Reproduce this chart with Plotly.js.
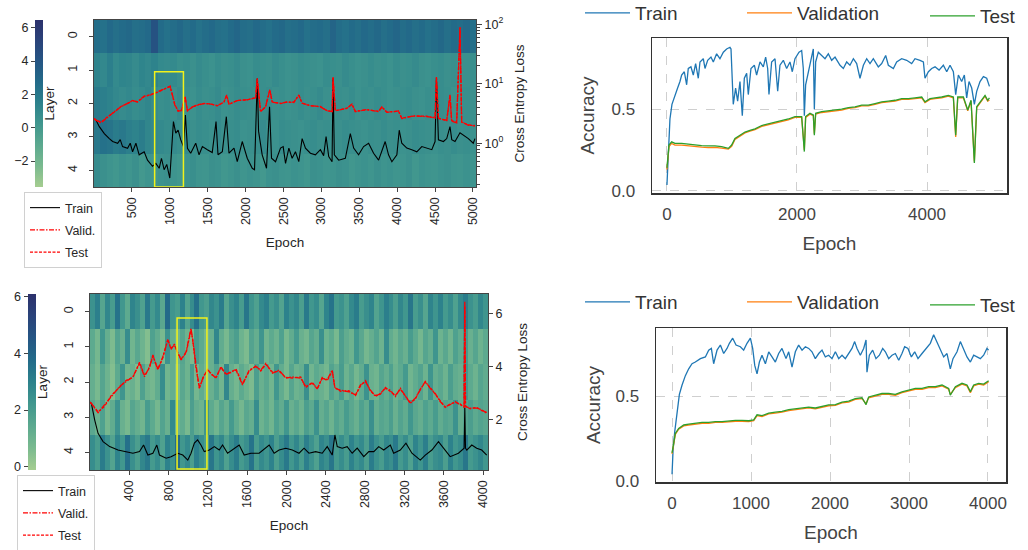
<!DOCTYPE html>
<html><head><meta charset="utf-8">
<script src="https://cdn.plot.ly/plotly-3.0.1.min.js"></script>
<style>html,body{margin:0;padding:0;background:#fff}#chart{width:1028px;height:550px}</style>
</head><body><div id="chart"></div>
<script>
// ---------- DATA ----------
const layerIdx = [0, 1, 2, 3, 4];
const layerLabels = ['0', '1', '2', '3', '4'];

// top-left heatmap rows (layer 0..4), 60 epoch bins over 0..5040
const tlHeat0 = [2.6,2.4,2.8,2.5,2.7,2.9,2.5,2.6,2.8,4.2,2.7,2.4,2.6,2.9,2.5,2.7,2.3,2.6,2.8,2.5,2.4,2.7,3.0,2.6,2.5,2.8,2.6,2.4,2.7,2.9,2.5,2.6,2.8,2.4,2.6,2.7,2.5,3.1,2.6,2.4,2.7,2.5,2.8,2.6,2.9,2.5,2.7,3.0,2.6,2.8,2.5,2.7,2.4,2.6,2.9,2.5,2.7,2.6,2.8,2.5];
const tlHeat1 = [1.4,1.1,1.6,1.0,1.3,1.2,0.9,1.3,1.1,1.4,1.0,0.9,1.0,0.7,0.8,0.6,0.9,0.7,0.5,0.8,0.6,0.7,0.9,0.6,0.5,0.8,0.7,0.6,0.9,0.7,0.5,0.6,0.8,0.7,0.6,0.5,0.8,0.7,0.6,0.9,0.7,0.5,0.6,0.8,0.6,0.7,0.5,0.8,0.6,0.7,0.9,0.6,0.5,0.7,0.8,0.6,0.7,0.5,0.6,0.7];
const tlHeat2 = [1.9,1.6,1.4,1.1,0.9,1.1,0.8,1.0,1.2,0.9,0.7,0.8,0.6,0.9,0.7,0.5,0.8,0.6,0.7,0.9,0.5,0.6,0.8,0.7,0.6,0.5,0.7,0.8,0.6,0.7,0.5,0.6,0.8,0.6,0.7,0.9,0.6,0.5,0.7,0.6,0.8,0.5,0.7,0.6,0.8,0.7,0.5,0.6,0.7,0.8,0.6,0.5,0.7,0.6,0.8,0.7,0.5,0.6,0.7,0.6];
const tlHeat3 = [2.0,2.4,2.2,1.8,2.0,1.6,1.4,1.7,1.2,1.1,1.0,0.8,0.9,0.7,1.0,0.6,0.8,0.7,0.5,0.9,0.6,0.7,0.8,0.5,0.6,0.7,0.9,0.6,0.5,0.8,0.7,0.6,0.5,0.7,0.8,0.6,0.7,0.5,0.6,0.8,0.7,0.6,0.5,0.7,0.6,0.8,0.6,0.7,0.5,0.6,0.8,0.7,0.6,0.5,0.7,0.6,0.8,0.6,0.7,0.5];
const tlHeat4 = [0.9,0.6,0.4,0.2,0.5,0.3,0.6,0.1,0.4,0.3,0.5,0.6,0.4,0.2,0.5,0.7,0.4,0.3,0.6,0.5,0.2,0.4,0.6,0.3,0.5,0.4,0.1,0.5,0.6,0.4,0.3,0.5,0.4,0.2,0.6,0.5,0.3,0.4,0.6,0.5,0.2,0.4,0.5,0.3,0.6,0.4,0.5,0.3,0.4,0.6,0.2,0.5,0.4,0.3,0.5,0.6,0.4,0.3,0.5,0.4];

// bottom-left heatmap rows (layer 0..4), 80 epoch bins over 0..4050
const blHeat0 = [2.4,3.1,1.6,2.8,2.0,3.5,2.2,1.4,2.9,2.5,1.8,3.3,2.1,2.7,1.5,3.8,2.3,2.0,3.0,1.7,2.6,3.6,2.2,1.9,2.8,2.4,3.2,1.6,2.5,2.9,2.0,3.4,2.3,1.8,2.7,3.1,2.1,2.5,1.7,3.0,2.4,2.8,1.9,3.3,2.2,2.6,1.6,2.9,3.5,2.1,2.4,1.8,2.7,3.2,2.0,2.5,2.9,1.7,2.3,3.1,2.6,1.9,2.8,2.2,3.4,2.0,2.5,1.6,2.9,2.3,3.0,2.1,2.6,1.8,2.7,3.2,2.4,2.0,2.8,2.3];
const blHeat1 = [1.4,0.8,2.2,1.2,0.6,1.7,1.1,2.6,0.9,1.5,1.0,0.5,1.8,1.3,0.7,2.4,1.2,0.9,1.6,1.0,0.6,2.0,1.4,0.8,1.1,2.8,1.3,0.7,1.5,1.9,1.0,0.6,1.7,1.2,2.3,0.9,1.4,1.0,1.8,0.7,1.3,2.1,1.1,0.8,1.6,1.2,2.5,1.0,1.4,0.7,1.9,1.3,1.0,2.2,1.5,0.8,1.2,1.7,1.0,2.6,1.3,0.9,1.5,1.1,2.0,1.4,0.8,1.6,1.2,2.3,1.0,1.5,0.9,1.8,1.3,2.1,1.1,1.6,1.0,1.4];
const blHeat2 = [1.2,0.7,1.6,1.0,0.5,1.4,2.3,0.9,1.1,0.6,1.8,1.0,0.8,1.3,2.6,0.9,1.2,0.6,1.5,1.0,2.0,0.8,1.3,0.7,1.1,1.7,0.9,2.8,1.2,0.8,1.4,1.0,0.6,1.9,1.1,1.5,0.9,2.2,1.3,0.7,1.6,1.0,1.2,2.5,0.9,1.4,1.1,0.8,1.7,1.2,2.0,1.0,1.5,0.8,1.3,2.4,1.1,0.9,1.6,1.2,1.8,1.0,1.4,2.1,0.9,1.3,1.7,1.0,2.3,1.2,1.5,1.0,1.9,1.3,1.1,2.2,1.4,1.0,1.6,1.3];
const blHeat3 = [1.5,1.0,1.8,0.8,1.3,2.4,1.1,0.7,1.6,1.2,0.9,2.0,1.4,0.8,1.7,1.1,2.7,1.0,1.3,0.7,1.9,1.2,1.0,2.3,1.4,0.9,1.6,1.1,2.1,1.3,0.8,1.5,1.2,2.6,1.0,1.4,0.9,1.8,1.3,2.2,1.1,1.5,1.0,1.9,1.4,2.4,1.2,1.6,1.0,1.7,1.3,2.0,1.5,1.1,1.8,1.3,2.5,1.2,1.6,1.4,1.9,1.1,1.7,1.3,2.2,1.5,1.2,1.8,1.4,2.0,1.3,1.7,1.5,2.4,1.2,1.6,1.9,1.4,1.7,1.5];
const blHeat4 = [2.6,2.0,3.2,2.4,1.7,2.9,2.2,3.6,2.5,1.9,2.8,3.3,2.1,2.6,1.8,3.0,2.4,3.7,2.2,2.7,1.9,3.1,2.5,2.0,3.4,2.3,2.8,1.8,2.6,3.2,2.1,2.5,3.5,2.0,2.7,2.3,3.0,1.9,2.6,3.3,2.2,2.8,2.0,3.1,2.4,1.8,2.9,2.5,3.4,2.1,2.6,2.0,3.0,2.3,2.7,1.9,3.2,2.4,2.0,2.8,2.5,3.3,2.1,2.6,1.8,2.9,2.3,3.1,2.0,2.5,2.7,1.9,3.0,2.2,2.6,3.4,2.1,2.4,2.8,2.2];

// top-left losses (log scale)
const tlTrainEpoch = [0,26,70,136,202,246,312,346,377,443,478,509,553,596,662,706,772,816,860,890,925,960,1000,1020,1048,1079,1110,1145,1180,1206,1233,1276,1342,1386,1430,1496,1560,1610,1636,1693,1746,1781,1847,1890,1956,2022,2088,2118,2154,2171,2219,2276,2316,2342,2395,2461,2496,2527,2571,2614,2658,2702,2746,2790,2855,2921,2987,3030,3062,3097,3141,3154,3171,3228,3316,3382,3426,3491,3557,3623,3689,3755,3798,3842,3886,3930,3996,4027,4061,4127,4193,4259,4325,4391,4457,4500,4518,4544,4610,4654,4697,4720,4763,4829,4873,4939,5004,5026];
const tlTrain = [2.6,2.45,1.9,1.45,1.2,1.07,1.0,1.15,0.88,0.825,1.0,0.72,1.0,0.64,0.72,0.52,0.41,0.46,0.38,0.56,0.36,0.44,0.26,0.56,2.31,1.48,1.66,1.14,0.88,2.99,0.825,0.68,1.0,0.64,0.88,0.78,0.7,2.31,0.64,0.72,2.8,0.68,0.83,0.49,1.07,0.56,0.38,0.36,12.3,1.6,0.64,0.38,4.1,0.56,0.49,0.83,0.88,0.46,0.83,0.56,0.72,0.49,1.2,0.83,0.68,0.64,0.78,0.62,1.3,0.6,0.49,12.3,0.64,0.52,0.56,1.45,0.83,0.64,0.88,1.0,0.68,0.52,0.72,1.07,0.64,0.49,0.64,1.66,1.0,0.83,0.78,0.72,0.88,0.83,0.78,1.07,12.3,1.14,1.07,1.2,1.9,1.15,1.07,1.5,1.38,1.2,1.0,1.2];
const tlValidEpoch = [0,26,92,180,268,355,443,509,574,662,750,838,925,1004,1035,1066,1110,1154,1202,1233,1299,1364,1452,1540,1627,1715,1751,1781,1890,2022,2132,2154,2171,2197,2263,2320,2351,2461,2548,2636,2702,2746,2855,2987,3075,3141,3154,3184,3338,3404,3448,3601,3755,3798,3864,4017,4061,4215,4391,4500,4518,4544,4654,4697,4719,4785,4829,4851,4939,5026];
const tlValid = [2.6,2.45,2.2,2.75,3.4,4.1,4.7,5.2,5.0,6.2,6.5,7.3,8.0,9.1,6.5,4.4,3.5,3.55,6.1,3.5,4.1,4.4,4.7,4.55,4.3,4.9,6.5,4.55,5.2,5.4,5.8,12.3,7.4,3.4,4.1,8.0,4.9,4.7,4.9,4.9,6.5,4.7,4.3,4.1,3.55,3.4,13,3.55,3.85,4.55,3.4,3.7,3.4,4.1,3.3,3.5,2.6,2.9,2.8,2.7,13,2.6,2.45,6.5,2.35,2.2,91,2.3,2.0,2.0];
const tlTest = [2.6,2.45,2.25,2.8,3.35,4.15,4.65,5.25,4.95,6.1,6.6,7.2,8.1,9.0,6.4,4.5,3.45,3.6,6.0,3.55,4.05,4.45,4.65,4.6,4.25,4.95,6.4,4.5,5.25,5.35,5.85,12.0,7.3,3.45,4.05,7.8,4.95,4.65,4.95,4.85,6.4,4.75,4.25,4.15,3.5,3.45,12.5,3.5,3.9,4.5,3.45,3.65,3.45,4.05,3.35,3.45,2.65,2.85,2.85,2.65,12.6,2.65,2.4,6.3,2.4,2.25,88,2.25,2.05,1.95];

// bottom-left losses (linear)
const blTrainEpoch = [0,14,48,82,133,200,285,369,437,504,545,589,640,680,707,775,825,893,944,995,1028,1062,1095,1129,1163,1214,1265,1315,1349,1400,1451,1518,1569,1637,1721,1789,1823,1874,1924,1992,2059,2127,2178,2228,2296,2363,2414,2465,2492,2516,2566,2617,2668,2719,2786,2837,2888,2938,2989,3056,3090,3158,3215,3276,3361,3412,3479,3546,3597,3665,3749,3807,3814,3821,3834,3885,3935,3986,4037];
const blTrain = [2.65,2.6,1.97,1.47,1.16,0.97,0.84,0.78,0.72,0.78,1.03,0.65,0.72,1.03,0.65,0.53,0.59,0.72,0.65,0.46,0.72,1.1,1.22,1.03,0.78,0.84,0.97,0.84,1.03,0.72,0.84,1.03,0.65,0.72,0.72,0.91,1.03,0.72,0.84,0.91,0.84,0.72,0.91,0.72,0.78,0.72,0.97,0.65,1.41,0.97,0.91,0.97,0.72,0.91,0.59,0.78,0.78,0.97,0.84,1.03,0.72,0.84,1.1,0.72,0.46,0.65,0.84,1.16,0.91,0.59,0.72,0.91,2.45,0.91,0.84,1.03,0.91,0.84,0.65];
const blValidEpoch = [0,14,82,150,217,302,369,437,504,555,606,640,690,741,792,825,859,893,927,978,1028,1045,1078,1112,1153,1197,1231,1282,1332,1383,1434,1485,1552,1620,1688,1738,1789,1857,1924,1992,2059,2144,2195,2262,2313,2363,2414,2465,2492,2550,2634,2702,2752,2803,2854,2905,2955,3006,3056,3107,3158,3209,3259,3310,3361,3412,3462,3513,3563,3614,3665,3716,3766,3807,3814,3821,3868,3935,3986,4037];
const blValid = [2.65,2.6,2.25,2.55,2.86,3.24,3.43,3.61,4.11,3.61,3.99,4.43,3.86,4.36,4.99,4.68,4.8,4.55,4.24,4.55,5.43,4.99,3.99,3.17,3.61,3.86,3.74,3.55,3.99,3.68,3.8,3.86,3.3,3.86,3.99,3.86,4.11,3.74,3.86,3.55,3.6,3.55,3.24,3.36,3.17,3.55,3.5,3.86,3.17,3.1,3.04,2.92,3.3,3.43,3.1,2.86,2.98,3.17,3.1,2.86,3.17,2.86,2.6,2.8,3.1,3.43,3.17,2.98,2.67,2.48,2.55,2.67,2.55,2.48,6.44,2.48,2.42,2.42,2.36,2.23];
const blTest = [2.65,2.6,2.28,2.5,2.9,3.2,3.47,3.58,4.15,3.65,3.95,4.4,3.9,4.32,5.02,4.64,4.84,4.5,4.28,4.5,5.38,5.02,3.95,3.2,3.58,3.9,3.7,3.58,3.95,3.72,3.76,3.9,3.34,3.82,4.02,3.82,4.08,3.78,3.82,3.58,3.56,3.6,3.2,3.4,3.14,3.58,3.46,3.82,3.2,3.06,3.08,2.9,3.26,3.46,3.06,2.9,2.95,3.2,3.06,2.9,3.14,2.9,2.63,2.76,3.14,3.4,3.2,2.95,2.7,2.45,2.58,2.64,2.58,2.45,6.3,2.5,2.4,2.45,2.33,2.26];

// top-right accuracy
const trTrainEpoch = [0,15,31,46,77,123,164,200,226,267,303,328,369,405,441,482,508,559,585,626,677,713,764,815,867,918,969,985,1005,1020,1056,1087,1123,1159,1190,1226,1251,1292,1344,1379,1431,1482,1518,1549,1569,1610,1662,1703,1738,1790,1841,1892,1928,1969,2031,2072,2097,2113,2133,2164,2215,2251,2267,2287,2328,2379,2431,2482,2533,2585,2662,2713,2764,2815,2867,2918,2969,3021,3072,3123,3174,3251,3303,3364,3405,3482,3533,3610,3687,3764,3815,3892,3944,3969,4021,4072,4123,4185,4251,4303,4354,4405,4441,4482,4533,4574,4610,4646,4687,4728,4764,4815,4867,4918,4960];
const trTrain = [0.035,0.18,0.34,0.44,0.53,0.59,0.63,0.67,0.71,0.73,0.65,0.75,0.76,0.71,0.78,0.69,0.79,0.81,0.75,0.80,0.82,0.79,0.84,0.81,0.85,0.87,0.88,0.87,0.65,0.53,0.63,0.55,0.67,0.46,0.69,0.72,0.59,0.75,0.77,0.71,0.79,0.76,0.82,0.75,0.59,0.79,0.81,0.61,0.77,0.80,0.75,0.79,0.73,0.81,0.85,0.86,0.75,0.46,0.65,0.71,0.79,0.87,0.50,0.79,0.85,0.83,0.81,0.84,0.80,0.82,0.77,0.75,0.79,0.77,0.81,0.78,0.69,0.77,0.81,0.78,0.81,0.76,0.78,0.83,0.77,0.75,0.79,0.81,0.80,0.78,0.81,0.80,0.79,0.69,0.73,0.75,0.76,0.74,0.77,0.73,0.77,0.73,0.59,0.71,0.67,0.71,0.57,0.67,0.63,0.53,0.61,0.67,0.70,0.69,0.64];
const trEvalEpoch = [0,15,31,72,123,226,328,431,533,636,738,841,944,995,1046,1123,1200,1277,1354,1457,1559,1662,1764,1867,1969,2072,2113,2133,2200,2251,2267,2287,2379,2482,2585,2687,2790,2892,2995,3097,3200,3303,3405,3508,3610,3713,3815,3918,3969,4046,4123,4226,4328,4405,4441,4472,4559,4626,4677,4728,4764,4841,4892,4933,4960];
const trValid = [0.13,0.21,0.27,0.29,0.28,0.28,0.275,0.27,0.268,0.265,0.266,0.262,0.255,0.272,0.315,0.335,0.355,0.365,0.375,0.395,0.405,0.415,0.425,0.435,0.45,0.45,0.25,0.45,0.47,0.46,0.35,0.47,0.48,0.485,0.49,0.495,0.505,0.51,0.52,0.52,0.53,0.54,0.545,0.55,0.56,0.56,0.565,0.57,0.54,0.56,0.565,0.57,0.58,0.57,0.33,0.57,0.57,0.49,0.55,0.18,0.51,0.55,0.58,0.55,0.555];
const trTest = [0.14,0.22,0.28,0.30,0.29,0.29,0.285,0.28,0.277,0.275,0.275,0.27,0.26,0.28,0.32,0.34,0.36,0.37,0.38,0.40,0.41,0.42,0.43,0.44,0.455,0.455,0.24,0.455,0.475,0.465,0.34,0.475,0.485,0.49,0.495,0.50,0.51,0.515,0.525,0.525,0.535,0.545,0.55,0.555,0.565,0.565,0.57,0.575,0.545,0.565,0.57,0.575,0.585,0.575,0.34,0.575,0.575,0.495,0.555,0.17,0.515,0.555,0.585,0.555,0.57];

// bottom-right accuracy
const brTrainEpoch = [0,13,34,63,93,127,169,211,253,295,359,422,464,498,527,570,612,654,696,726,768,810,865,907,949,992,1021,1047,1076,1106,1139,1182,1224,1266,1308,1350,1392,1443,1477,1519,1561,1603,1646,1688,1730,1772,1814,1857,1899,1941,1983,2025,2068,2110,2152,2194,2236,2278,2312,2342,2384,2426,2456,2468,2498,2540,2582,2625,2667,2701,2743,2785,2827,2870,2911,2945,2987,3030,3072,3114,3165,3215,3270,3312,3354,3397,3439,3481,3523,3557,3608,3650,3692,3734,3777,3819,3861,3903,3945,3987,4008];
const brTrain = [0.04,0.18,0.29,0.41,0.51,0.565,0.62,0.66,0.69,0.70,0.72,0.73,0.77,0.78,0.69,0.77,0.80,0.75,0.78,0.81,0.84,0.80,0.79,0.77,0.81,0.84,0.78,0.68,0.63,0.70,0.74,0.69,0.76,0.73,0.70,0.75,0.78,0.72,0.76,0.67,0.76,0.80,0.77,0.79,0.78,0.76,0.72,0.75,0.77,0.73,0.74,0.72,0.76,0.72,0.74,0.72,0.75,0.78,0.82,0.78,0.74,0.78,0.83,0.64,0.74,0.77,0.72,0.74,0.78,0.76,0.72,0.74,0.75,0.71,0.75,0.79,0.78,0.73,0.76,0.72,0.75,0.78,0.81,0.86,0.82,0.78,0.73,0.75,0.66,0.72,0.76,0.82,0.77,0.73,0.70,0.74,0.73,0.72,0.74,0.78,0.77];
const brEvalEpoch = [0,21,42,84,148,211,295,380,464,549,633,717,802,886,971,1034,1076,1139,1224,1308,1392,1477,1561,1646,1730,1814,1899,1983,2068,2152,2236,2320,2405,2456,2489,2574,2658,2743,2827,2911,2996,3080,3165,3249,3333,3418,3502,3523,3587,3671,3734,3777,3819,3882,3945,4008];
const brValid = [0.16,0.225,0.275,0.305,0.325,0.33,0.335,0.34,0.34,0.345,0.345,0.35,0.352,0.352,0.35,0.356,0.385,0.38,0.395,0.40,0.405,0.415,0.42,0.425,0.43,0.425,0.435,0.443,0.445,0.46,0.465,0.48,0.485,0.455,0.49,0.50,0.51,0.51,0.505,0.52,0.53,0.54,0.54,0.55,0.55,0.56,0.54,0.51,0.55,0.57,0.56,0.52,0.56,0.57,0.565,0.585];
const brTest = [0.166,0.23,0.28,0.31,0.33,0.335,0.34,0.345,0.345,0.35,0.35,0.355,0.357,0.357,0.355,0.36,0.39,0.385,0.40,0.405,0.41,0.42,0.425,0.43,0.435,0.43,0.44,0.448,0.45,0.465,0.47,0.485,0.49,0.45,0.495,0.505,0.515,0.515,0.51,0.525,0.535,0.545,0.545,0.555,0.555,0.565,0.545,0.505,0.555,0.575,0.565,0.526,0.565,0.575,0.57,0.59];

// highlighted windows (epoch range, layer range)
const tlHighlightEpochs = [800, 1180];
const tlHighlightLayers = [1.05, 4.5];
const blHighlightEpochs = [886, 1190];
const blHighlightLayers = [0.18, 4.47];

const tlEpochTicks = [500,1000,1500,2000,2500,3000,3500,4000,4500,5000];
const blEpochTicks = [400,800,1200,1600,2000,2400,2800,3200,3600,4000];
const lossLogTicks = [1, 10, 100];
const lossLogTickText = ['10<sup>0</sup>', '10<sup>1</sup>', '10<sup>2</sup>'];
const lossLogMinor = [0.2,0.3,0.4,0.5,0.6,0.7,0.8,0.9,2,3,4,5,6,7,8,9,20,30,40,50,60,70,80,90];

// ---------- STYLE / LAYOUT ----------
const W = 1028, H = 550;
const px = v => v / W, py = v => 1 - v / H;
const FONT = 'Arial, "Liberation Sans", sans-serif';
const crest = [
  [0.0, 'rgb(165,205,144)'], [0.125, 'rgb(122,186,143)'], [0.25, 'rgb(92,169,143)'],
  [0.375, 'rgb(65,151,142)'], [0.5, 'rgb(45,130,140)'], [0.625, 'rgb(35,107,137)'],
  [0.75, 'rgb(37,86,132)'], [0.875, 'rgb(42,67,122)'], [1.0, 'rgb(44,49,108)']
];
const tlZ = [-3.56, 6.46], blZ = [-0.12, 6.1];
const tlDom = {x: [px(94), px(476)], y: [py(187), py(20)]};
const blDom = {x: [px(90), px(488)], y: [py(470), py(294)]};
const trDom = {x: [px(652), px(1007)], y: [py(193), py(38)]};
const brDom = {x: [px(656), px(1006)], y: [py(482), py(328)]};

function heat(rows, xmax, zr, xa, ya, dom, cbx) {
  const dx = xmax / rows[0].length;
  return {
    type: 'heatmap', z: rows, y: layerIdx, x0: dx / 2, dx: dx,
    xaxis: xa, yaxis: ya, colorscale: crest, zmin: zr[0], zmax: zr[1], zsmooth: false,
    hoverinfo: 'skip',
    colorbar: {x: cbx, xanchor: 'left', xpad: 0, ypad: 0, thickness: 8,
      lenmode: 'fraction', len: dom.y[1] - dom.y[0], y: dom.y[1], yanchor: 'top',
      showticklabels: false, ticks: '', outlinewidth: 0}
  };
}
function line(x, y, xa, ya, name, color, dash, width, legend) {
  return {type: 'scatter', mode: 'lines', x: x, y: y, xaxis: xa, yaxis: ya, name: name,
    line: {color: color, dash: dash, width: width}, legend: legend, legendgroup: name + legend, hoverinfo: 'skip'};
}
const VDASH = '5px,1.5px,1.5px,1.5px', TDASH = '3px,1.5px';

const traces = [
  heat([tlHeat0, tlHeat1, tlHeat2, tlHeat3, tlHeat4], 5040, tlZ, 'x', 'y', tlDom, px(35)),
  heat([blHeat0, blHeat1, blHeat2, blHeat3, blHeat4], 4050, blZ, 'x2', 'y4', blDom, px(27.5)),
  {type: 'scatter', x: [null], y: [null], xaxis: 'x', yaxis: 'y3', showlegend: false, hoverinfo: 'skip'},
  {type: 'scatter', x: [null], y: [null], xaxis: 'x2', yaxis: 'y6', showlegend: false, hoverinfo: 'skip'},
  line(tlTrainEpoch, tlTrain, 'x', 'y2', 'Train', '#000000', 'solid', 1.1, 'legend'),
  line(tlValidEpoch, tlValid, 'x', 'y2', 'Valid.', '#ff0000', VDASH, 1.3, 'legend'),
  line(tlValidEpoch, tlTest, 'x', 'y2', 'Test', '#ff0000', TDASH, 1.3, 'legend'),
  line(blTrainEpoch, blTrain, 'x2', 'y5', 'Train', '#000000', 'solid', 1.1, 'legend2'),
  line(blValidEpoch, blValid, 'x2', 'y5', 'Valid.', '#ff0000', VDASH, 1.3, 'legend2'),
  line(blValidEpoch, blTest, 'x2', 'y5', 'Test', '#ff0000', TDASH, 1.3, 'legend2'),
  line(trTrainEpoch, trTrain, 'x3', 'y7', 'Train', '#1f77b4', 'solid', 1.3, 'legend3'),
  line(trEvalEpoch, trValid, 'x3', 'y7', 'Validation', '#ff7f0e', 'solid', 1.3, 'legend5'),
  line(trEvalEpoch, trTest, 'x3', 'y7', 'Test', '#2ca02c', 'solid', 1.3, 'legend6'),
  line(brTrainEpoch, brTrain, 'x4', 'y8', 'Train', '#1f77b4', 'solid', 1.3, 'legend4'),
  line(brEvalEpoch, brValid, 'x4', 'y8', 'Validation', '#ff7f0e', 'solid', 1.3, 'legend7'),
  line(brEvalEpoch, brTest, 'x4', 'y8', 'Test', '#2ca02c', 'solid', 1.3, 'legend8')
];

const leftTick = {size: 12.5, color: '#262626', family: FONT};
const leftTitle = {size: 13.5, color: '#262626', family: FONT};
const frame = {showline: true, mirror: true, linecolor: '#444', linewidth: 1.3, zeroline: false, showgrid: false};

function epochAxis(dom, range, ticks, anchor) {
  return Object.assign({}, frame, {domain: dom, range: range, anchor: anchor, tickvals: ticks,
    ticktext: ticks.map(String), tickangle: -90, ticks: 'outside', ticklen: 4, tickcolor: '#444',
    tickfont: leftTick, title: {text: 'Epoch', font: leftTitle, standoff: 13}});
}
function layerAxis(dom, anchor, standoff) {
  return Object.assign({}, frame, {domain: dom, range: [4.5, -0.5], anchor: anchor,
    tickvals: layerIdx, ticktext: layerLabels, tickangle: -90, ticks: 'outside', ticklen: 4, tickcolor: '#444',
    ticklabelstandoff: 7, tickfont: leftTick, title: {text: 'Layer', font: leftTitle, standoff: standoff}});
}
function cbAxis(over, pos, range, ticks) {
  return {overlaying: over, anchor: 'free', position: pos, side: 'left', range: range,
    tickvals: ticks, ticks: 'outside', ticklen: 4, tickcolor: '#444', showgrid: false, zeroline: false,
    showline: false, tickfont: leftTick};
}
const accGrid = {showgrid: true, gridcolor: '#cfcfcf', griddash: 'dash', gridwidth: 1,
  showline: true, mirror: true, linecolor: '#333', linewidth: 1.5, zeroline: false, ticks: '',
  tickfont: {size: 17, color: '#444', family: FONT}};
const accTitle = {size: 19, color: '#444', family: FONT};
function accLegend(x, ytop) {
  return {x: px(x), xanchor: 'left', y: py(ytop), yanchor: 'top',
    font: {size: 19, color: '#333', family: FONT}, bgcolor: 'rgba(0,0,0,0)', borderwidth: 0,
    itemwidth: 45};
}
function lossLegend(x, ytop) {
  return {x: px(x), xanchor: 'left', y: py(ytop), yanchor: 'top', bgcolor: '#ffffff',
    bordercolor: '#d0d0d0', borderwidth: 1, font: {size: 12.5, color: '#262626', family: FONT},
    traceorder: 'grouped', tracegroupgap: 3};
}

const layout = {
  width: W, height: H, margin: {l: 0, r: 0, t: 0, b: 0, autoexpand: false},
  paper_bgcolor: '#fff', plot_bgcolor: '#fff', font: {family: FONT},
  xaxis: epochAxis(tlDom.x, [0, 5040], tlEpochTicks, 'y'),
  yaxis: layerAxis(tlDom.y, 'x', 8),
  yaxis2: {overlaying: 'y', anchor: 'x', side: 'right', type: 'log', range: [-0.735, 2.072],
    tickvals: lossLogTicks, ticktext: lossLogTickText,
    ticks: 'outside', ticklen: 5, tickcolor: '#444', showgrid: false, zeroline: false,
    minor: {tickvals: lossLogMinor, ticks: 'outside', ticklen: 2.5, tickcolor: '#444', showgrid: false},
    tickfont: leftTick, title: {text: 'Cross Entropy Loss', font: leftTitle, standoff: 12}},
  yaxis3: cbAxis('y', px(35), tlZ, [-2, 0, 2, 4, 6]),
  xaxis2: epochAxis(blDom.x, [0, 4050], blEpochTicks, 'y4'),
  yaxis4: layerAxis(blDom.y, 'x2', 11),
  yaxis5: {overlaying: 'y4', anchor: 'x2', side: 'right', range: [0.087, 6.73],
    tickvals: [2, 4, 6], ticks: 'outside', ticklen: 4, tickcolor: '#444', showgrid: false, zeroline: false,
    tickfont: leftTick, title: {text: 'Cross Entropy Loss', font: leftTitle, standoff: 16}},
  yaxis6: cbAxis('y4', px(27.5), blZ, [0, 2, 4, 6]),
  xaxis3: Object.assign({}, accGrid, {domain: trDom.x, anchor: 'y7', range: [-230, 5230], dtick: 2000, tick0: 0,
    ticklabelstandoff: 5, title: {text: 'Epoch', font: accTitle, standoff: 14}}),
  yaxis7: Object.assign({}, accGrid, {domain: trDom.y, anchor: 'x3', range: [-0.014, 0.937], dtick: 0.5, tick0: 0,
    tickformat: '.1f', ticklabelstandoff: 12, title: {text: 'Accuracy', font: accTitle, standoff: 12}}),
  xaxis4: Object.assign({}, accGrid, {domain: brDom.x, anchor: 'y8', range: [-203, 4228], dtick: 1000, tick0: 0,
    ticklabelstandoff: 5, title: {text: 'Epoch', font: accTitle, standoff: 14}}),
  yaxis8: Object.assign({}, accGrid, {domain: brDom.y, anchor: 'x4', range: [-0.005, 0.9], dtick: 0.5, tick0: 0,
    tickformat: '.1f', ticklabelstandoff: 12, title: {text: 'Accuracy', font: accTitle, standoff: 10}}),
  legend: lossLegend(24, 192),
  legend2: lossLegend(17, 475),
  legend3: accLegend(580, -6),
  legend5: accLegend(742, -6),
  legend6: accLegend(925, -3),
  legend4: accLegend(580, 283),
  legend7: accLegend(742, 283),
  legend8: accLegend(925, 286),
  shapes: [
    {type: 'rect', xref: 'x', yref: 'y', x0: tlHighlightEpochs[0], x1: tlHighlightEpochs[1],
      y0: tlHighlightLayers[0], y1: tlHighlightLayers[1], line: {color: '#f2f21a', width: 1.5}, layer: 'above'},
    {type: 'rect', xref: 'x2', yref: 'y4', x0: blHighlightEpochs[0], x1: blHighlightEpochs[1],
      y0: blHighlightLayers[0], y1: blHighlightLayers[1], line: {color: '#f2f21a', width: 1.5}, layer: 'above'}
  ]
};

Plotly.newPlot('chart', traces, layout, {displayModeBar: false, staticPlot: true});
</script></body></html>
